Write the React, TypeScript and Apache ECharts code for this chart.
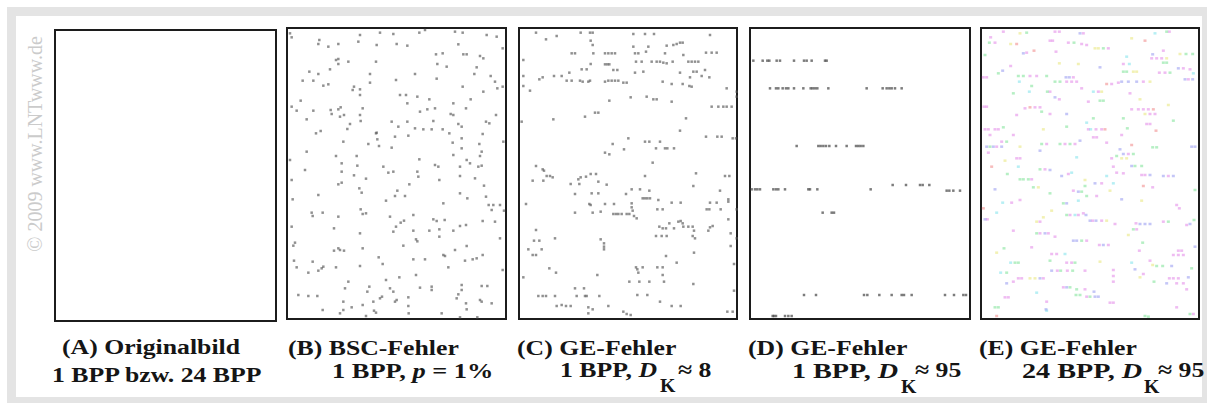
import React, { useEffect, useRef } from "react";
import * as echarts from "echarts";

const panelNames = ["A", "B", "C", "D", "E"];

const bscDots: number[][] = [
  [30,40],[35,52],[240,45],[300,38],[340,42],[418,38],[435,30],[525,35],[548,38],[620,45],[650,50],
  [118,60],[235,65],[115,72],[145,80],[175,72],[290,75],[350,72],[382,77],[535,73],[668,85],
  [468,103],[488,100],[550,103],[560,103],[600,108],[610,115],[168,120],[175,117],[205,125],[288,125],[175,132],[472,132],[500,140],[590,142],[88,155],[150,148],[115,162],[270,162],[405,162],[583,162],[632,168],[645,185],[68,182],[100,182],[130,197],[145,193],[270,188],[348,180],[470,176],[222,200],[240,208],[218,210],[240,225],[548,200],[610,215],[652,205],[668,200],
  [360,225],[378,225],[412,230],[448,238],[572,238],[62,242],[35,260],[50,272],[100,272],[152,270],[175,268],[182,262],[155,282],[180,290],[192,285],[240,285],[248,265],[382,250],[420,275],[442,268],[465,265],[520,250],[512,282],[520,285],[558,265],[648,285],[80,298],[210,312],[242,303],[290,338],[335,305],[355,320],[382,305],[405,325],[460,303],[535,312],[545,320],[618,305],[628,310],
  [108,340],[122,333],[202,327],[288,340],[292,358],[345,350],[385,347],[430,328],[455,328],[488,328],[508,340],[518,368],[545,355],[608,342],[598,372],[80,395],[190,365],[265,372],[297,378],[335,383],[545,385],[605,395],[168,408],[670,365],
  [230,408],[418,418],[520,405],[560,420],[570,430],[600,408],[595,440],[605,437],[30,420],[75,450],[185,430],[185,455],[232,437],[222,466],[310,440],[325,458],[340,455],[412,455],[415,470],[465,435],[475,440],[478,480],[540,440],[540,468],[585,475],[612,497],[175,493],[185,488],[258,476],[388,493],[35,480],
  [238,505],[245,518],[352,512],[375,528],[318,542],[345,528],[490,550],[540,520],[562,535],[618,530],[115,525],[38,538],[626,555],[640,555],[635,570],[660,555],[242,568],[672,572],
  [95,578],[128,578],[98,588],[175,590],[248,582],[258,580],[330,590],[362,608],[372,602],[400,585],[460,598],[470,603],[494,600],[540,618],[558,615],[608,603],[645,605],[35,620],[162,625],[340,635],[348,620],[400,632],[448,632],[478,628],[478,650],[520,632],[240,640],
  [408,658],[412,664],[45,668],[40,677],[370,677],[560,678],[660,655],[162,692],[175,685],[180,690],[192,692],[248,685],[525,690],[490,705],[495,708],[296,712],[308,732],[400,718],[435,718],[505,742],[555,722],[578,718],[590,715],[608,705],[42,722],[98,725],[50,742],[115,752],[125,745],[130,740],[168,742],[240,738],[85,758],[408,765],[668,750],[358,772],
  [205,785],[318,780],[268,800],[195,805],[330,805],[340,815],[420,803],[455,800],[455,810],[545,795],[545,810],[535,823],[605,798],[622,798],[55,825],[85,828],[112,828],[262,815],[300,835],[306,830],[345,845],[350,840],[385,832],[190,845],[190,870],[248,855],[280,845],[385,858],[530,835],[558,850],[600,840],[605,845],[635,850],[128,870],[180,880],[215,862],[282,872],[288,878],[258,888],[386,880],[485,880],[540,892],[560,868],[592,892],
];

const ge8Dots: number[][] = [
  [78,38],[108,58],[140,48],[212,38],[240,38],[248,38],[242,62],[248,75],[370,42],[405,42],[432,42],[600,45],
  [470,77],[490,75],[500,72],[510,68],[518,68],[370,80],[415,80],[408,95],[588,98],[605,98],[620,98],
  [185,100],[195,100],[250,100],[285,100],[295,100],[305,100],[315,100],[375,100],[385,100],[465,100],[520,105],[40,120],
  [378,125],[395,125],[425,125],[440,125],[450,125],[460,128],[470,130],[488,125],[535,125],[545,125],[555,125],[565,125],[242,132],[285,133],[292,133],[298,133],
  [215,148],[230,148],[310,150],[322,150],[178,158],[375,158],[400,155],[510,158],[550,155],[560,155],[585,150],[40,168],[88,178],[98,172],[132,168],[155,168],[170,182],[185,182],[210,182],[218,185],[235,185],[240,182],[285,185],[295,182],[305,182],[315,182],[325,182],[340,188],[350,188],[458,185],[540,172],[575,168],[598,172],[485,192],[518,192],[538,198],[545,200],[40,198],[60,212],[650,205],
  [680,215],[680,230],[362,232],[410,230],[430,238],[440,238],[298,242],[485,245],[605,260],[625,260],[640,260],[650,260],[665,260],[225,290],[255,278],[265,278],[130,298],[528,295],[35,305],[510,332],
  [588,350],[622,350],[635,350],[668,355],[678,355],[355,355],[405,365],[418,365],[450,365],[308,372],[342,388],[438,385],[465,385],[472,385],[492,385],[285,398],[298,403],
  [428,428],[78,438],[98,448],[102,452],[110,468],[120,468],[128,472],[68,482],[100,482],[205,478],[212,472],[228,470],[242,462],[258,462],[265,485],[405,468],[558,460],[645,468],[658,468],
  [182,492],[208,492],[290,494],[550,498],[195,522],[245,520],[265,520],[348,522],[365,508],[390,508],[418,512],[398,535],[405,535],[412,535],[420,535],[630,512],
  [48,552],[238,552],[242,555],[285,552],[312,552],[365,550],[365,562],[368,572],[445,540],[485,548],[512,548],[600,548],[620,548],[655,538],[655,545],[590,568],[598,568],[632,568],[680,568],[195,578],[248,578],[272,575],[310,582],[318,582],[325,582],[335,582],[350,582],[358,582],[372,588],[380,595],[442,568],[458,568],[655,598],
  [478,610],[505,605],[512,603],[518,610],[448,620],[458,625],[468,625],[492,625],[520,620],[535,620],[548,620],[552,632],[600,622],[608,618],[595,632],[662,640],[680,655],[78,630],[135,655],[438,648],[455,648],[470,648],[548,648],[555,655],
  [72,662],[88,662],[272,658],[282,670],[282,680],[282,688],[55,688],[95,688],[68,705],[78,705],[468,708],[552,698],[662,678],
  [118,745],[138,758],[378,742],[382,748],[398,742],[442,742],[458,742],[385,758],[262,765],[458,765],[500,728],[672,732],[40,772],[358,785],[388,785],[418,785],[462,785],[550,792],[195,805],[222,805],[672,812],
  [85,828],[98,828],[108,828],[135,828],[200,828],[225,828],[230,828],[268,828],[382,825],[412,825],[140,858],[155,855],[168,858],[182,858],[235,862],[248,868],[295,858],[450,845],[485,858],[512,858],[235,880],[340,875],[350,882],[362,885],[652,875],[668,875],
];

const ge95Dots: number[][] = [
  [40,122],[68,122],[82,122],[88,122],[110,122],[120,122],[162,122],[192,122],[200,122],[215,122],[255,122],[260,122],
  [90,205],[108,205],[115,205],[128,205],[138,205],[145,205],[162,205],[190,205],[212,205],[218,205],[225,205],[232,205],[265,205],[380,205],[428,205],[440,205],[448,205],[455,205],[465,205],[485,205],
  [170,378],[235,378],[242,378],[250,378],[258,378],[268,378],[288,378],[320,378],[348,378],[355,378],[362,378],[370,378],
  [35,508],[45,508],[52,508],[60,508],[100,508],[108,508],[115,508],[135,508],[205,508],[210,508],[232,508],[392,508],[458,495],[498,495],[540,495],[548,495],[568,495],[620,512],[628,512],[640,512],[660,512],
  [248,578],[275,578],[282,578],
  [192,825],[228,825],[372,825],[382,825],[418,825],[455,825],[485,825],[492,825],[515,825],[615,825],[642,825],[670,825],[678,825],
  [98,888],[102,888],[108,888],[135,888],[145,888],[155,888],
];

const eMagenta: number[][] = [
  [62,52],[100,35],[255,35],[268,35],[340,40],[598,35],[75,68],[240,62],[248,62],[295,68],[335,72],[350,75],[415,85],
  [170,98],[258,95],[580,92],[545,115],[560,115],[575,115],[122,138],[460,132],[40,172],[50,172],[180,168],[200,168],[310,172],
  [568,158],[585,158],[640,145],[660,148],[655,178],[290,185],[305,185],[320,185],[425,192],[445,188],[520,185],[335,205],[385,215],
  [240,215],[268,238],[355,245],[480,220],[42,260],[50,260],[165,265],[195,262],[210,262],[140,285],[240,282],[485,268],[505,268],
  [520,268],[535,268],[540,282],[555,282],[530,312],[540,312],[45,328],[55,328],[75,328],[85,328],[355,328],[378,328],[395,328],
  [60,345],[130,345],[370,352],[380,352],[455,345],[95,365],[410,368],[80,380],[230,372],[285,372],[315,372],[55,398],[140,415],
  [150,415],[475,402],[425,415],[225,448],[430,440],[440,458],[460,460],[295,462],[185,478],[515,465],[525,465],[595,468],[395,490],
  [548,502],[310,512],[380,528],[125,548],[150,540],[620,555],[628,565],[300,585],[325,585],[340,580],[52,598],[210,605],[368,602],
  [395,602],[435,612],[498,610],[580,605],[650,615],[130,632],[210,640],[235,640],[255,650],[500,628],[350,662],[388,675],[415,675],
  [185,682],[508,692],[625,692],[635,692],[610,705],[625,705],[640,705],[245,702],[260,702],[290,728],[305,728],[540,722],[430,750],
  [262,752],[292,752],[345,752],[520,762],[430,768],[145,775],[155,775],[220,775],[598,775],[610,775],[625,775],[130,785],[430,785],
  [620,790],[640,790],[280,802],[345,808],[650,808],[350,830],[105,832],[115,832],[420,848],[430,848],[230,845],[620,862],[670,882],
];
const eGreen: number[][] = [
  [170,38],[590,35],[58,68],[312,68],[400,85],[45,105],[648,102],[668,102],[580,128],[590,128],[85,160],[145,168],[160,168],
  [230,168],[460,155],[470,155],[600,158],[255,185],[270,185],[185,198],[130,220],[232,215],[390,242],[400,242],[215,275],[460,295],
  [370,295],[610,302],[100,322],[290,320],[472,325],[110,365],[60,380],[215,372],[270,372],[300,372],[548,382],[560,382],[440,408],
  [490,402],[210,448],[495,438],[515,438],[112,462],[150,478],[160,478],[175,478],[190,502],[345,498],[240,520],[335,515],[350,528],
  [675,510],[280,550],[290,585],[595,605],[672,600],[200,640],[490,628],[335,662],[518,668],[102,685],[240,722],[315,728],[135,728],
  [145,728],[560,738],[578,738],[665,745],[110,758],[272,752],[308,752],[552,785],[300,802],[320,808],[318,825],[330,825],[360,830],
  [75,862],[85,862],[525,888],[535,890],[660,882],
];
const eCyan: number[][] = [
  [555,40],[470,110],[478,132],[670,160],[148,185],[370,215],[178,215],[350,308],[362,328],[320,412],[145,440],[305,458],[410,468],
  [430,490],[98,548],[325,542],[80,578],[315,585],[285,702],[122,728],[485,728],[92,758],[200,818],[230,872],
];
const eYellow: number[][] = [
  [150,40],[122,72],[375,85],[385,85],[485,55],[630,102],[590,115],[268,130],[325,132],[490,155],[500,155],[540,185],[395,215],
  [510,238],[525,282],[595,255],[220,328],[150,380],[105,422],[455,415],[470,415],[345,480],[205,502],[420,512],[515,542],[245,572],
  [220,592],[200,605],[410,602],[475,645],[80,698],[390,725],[548,735],[180,775],[195,775],[510,772],
];
const eBlue: number[][] = [
  [330,40],[160,100],[548,103],[390,142],[98,152],[288,172],[298,172],[625,145],[645,178],[668,178],[455,185],[475,185],[500,185],
  [255,232],[290,282],[330,362],[50,380],[70,380],[95,380],[665,380],[675,380],[210,392],[450,388],[460,402],[240,450],[485,438],
  [275,468],[540,465],[580,468],[610,468],[375,490],[75,508],[325,515],[455,538],[290,550],[348,585],[45,598],[360,602],[378,602],
  [510,612],[525,612],[540,612],[660,612],[225,640],[310,662],[320,662],[400,675],[675,680],[605,738],[245,752],[495,748],[210,775],
  [655,772],[110,790],[590,790],[290,802],[375,830],[385,830],[372,815],[228,868],
];
const eRed: number[][] = [
  [140,72],[525,62],[192,92],[410,192],[180,262],[550,268],[405,328],[558,332],[485,375],[65,440],[520,498],[40,565],[80,888],
];

const panels = [
  { left: 55, top: 30, right: 276, bottom: 321, ox: 0, oy: 0 },
  { left: 287, top: 28, right: 506, bottom: 319, ox: 280, oy: 20 },
  { left: 519, top: 28, right: 737, bottom: 319, ox: 510, oy: 20 },
  { left: 750, top: 28, right: 970, bottom: 319, ox: 740, oy: 20 },
  { left: 981, top: 28, right: 1199, bottom: 319, ox: 970, oy: 20 },
];

const FONT = "'Liberation Serif', 'Times New Roman', Times, serif";

function label(x: number, y: number, text: string, sx = 1.17, size = 22): any {
  return {
    type: "text",
    x,
    y,
    scaleX: sx,
    z: 100,
    style: {
      text,
      fontFamily: FONT,
      fontSize: size,
      fontWeight: "bold",
      fill: "#151515",
      align: "left",
      verticalAlign: "middle",
      rich: {
        i: { fontFamily: FONT, fontSize: size, fontWeight: "bold", fontStyle: "italic", fill: "#151515" },
      },
    },
  };
}

export default function App() {
  const ref = useRef<HTMLDivElement>(null);
  useEffect(() => {
    if (!ref.current) return;
    const chart = echarts.init(ref.current, null, { renderer: "svg" });
    const dotSeries = (data: number[][], idx: number, color: string, size: any, opacity: number) => ({
      type: "scatter",
      xAxisIndex: idx,
      yAxisIndex: idx,
      data,
      symbol: "rect",
      symbolSize: size,
      silent: true,
      itemStyle: { color, opacity, borderWidth: 0 },
    });
    const option: any = {
      animation: false,
      backgroundColor: "#ffffff",
      grid: panels.map((p) => ({
        left: p.left,
        top: p.top,
        width: p.right - p.left,
        height: p.bottom - p.top,
        show: true,
        borderColor: "#1c1c1c",
        borderWidth: 2,
        backgroundColor: "#ffffff",
        containLabel: false,
      })),
      xAxis: panels.map((p, i) => ({
        type: "value",
        gridIndex: i,
        min: (p.left - p.ox) * 3,
        max: (p.right - p.ox) * 3,
        show: false,
      })),
      yAxis: panels.map((p, i) => ({
        type: "value",
        gridIndex: i,
        inverse: true,
        min: (p.top - p.oy) * 3,
        max: (p.bottom - p.oy) * 3,
        show: false,
      })),
      series: [
        { ...dotSeries([], 0, "#444", 2, 1), name: panelNames[0] },
        dotSeries(bscDots, 1, "#555555", [2.5, 2.5], 0.65),
        dotSeries(ge8Dots, 2, "#555555", [2.5, 2.5], 0.65),
        dotSeries(ge95Dots, 3, "#444444", [2.5, 2.5], 0.7),
        dotSeries(eMagenta, 4, "#e07ae6", [3, 2.5], 0.5),
        dotSeries(eGreen, 4, "#6ee08a", [3, 2.5], 0.5),
        dotSeries(eCyan, 4, "#6fe0ea", [3, 2.5], 0.5),
        dotSeries(eYellow, 4, "#e6e36a", [3, 2.5], 0.5),
        dotSeries(eBlue, 4, "#8a8ef0", [3, 2.5], 0.5),
        dotSeries(eRed, 4, "#f07a7a", [3, 2.5], 0.5),
      ],
      graphic: [
        { type: "rect", shape: { x: 7, y: 7, width: 1200, height: 9 }, style: { fill: "#e4e4e4" }, z: 1 },
        { type: "rect", shape: { x: 7, y: 7, width: 9, height: 396 }, style: { fill: "#e4e4e4" }, z: 1 },
        { type: "rect", shape: { x: 7, y: 397, width: 1200, height: 6 }, style: { fill: "#e4e4e4" }, z: 1 },
        { type: "rect", shape: { x: 1202, y: 7, width: 5, height: 396 }, style: { fill: "#e4e4e4" }, z: 1 },
        {
          type: "text",
          x: 35,
          y: 144,
          rotation: Math.PI / 2,
          style: {
            text: "© 2009 www.LNTwww.de",
            fontFamily: FONT,
            fontSize: 20,
            fill: "#cbcbcb",
            align: "center",
            verticalAlign: "middle",
          },
        },
        label(62, 347, "(A) Originalbild"),
        label(52, 375, "1 BPP bzw. 24 BPP"),
        label(288, 348, "(B) BSC-Fehler"),
        label(332, 370, "1 BPP, {i|p} = 1%", 1.2),
        label(517, 348, "(C) GE-Fehler"),
        label(560, 370, "1 BPP, {i|D}"),
        label(660, 386, "K", 1.1, 18),
        label(678, 370, "≈ 8"),
        label(748, 348, "(D) GE-Fehler"),
        label(792, 370, "1 BPP, {i|D}", 1.28),
        label(901, 387, "K", 1.1, 18),
        label(915, 370, "≈ 95"),
        label(979, 348, "(E) GE-Fehler"),
        label(1022, 370, "24 BPP, {i|D}", 1.28),
        label(1144, 387, "K", 1.1, 18),
        label(1158, 370, "≈ 95"),
      ],
    };
    chart.setOption(option);
    return () => chart.dispose();
  }, []);
  return (
    <div
      ref={ref}
      style={{ position: "absolute", left: 0, top: 0, width: 1207, height: 407, background: "#fff" }}
    />
  );
}
